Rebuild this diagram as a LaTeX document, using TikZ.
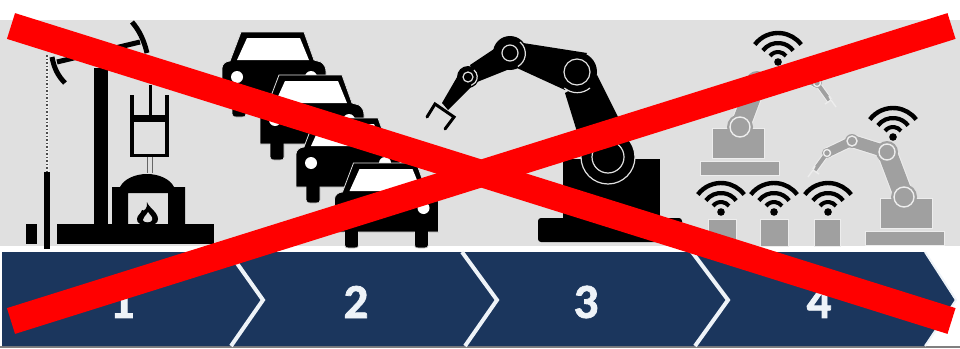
\documentclass[tikz,border=0pt]{standalone}
\usepackage{fontspec}
\setmainfont{Carlito}
\newfontfamily\stepfont[FakeBold=1.6]{Carlito Bold}
\usetikzlibrary{calc}
\definecolor{fieldgrey}{HTML}{E0E0E0}
\definecolor{bandnavy}{HTML}{1B365D}
\definecolor{numwhite}{HTML}{EEF3F8}
\definecolor{robotgrey}{HTML}{A0A0A0}
\definecolor{edgegrey}{HTML}{EDEDED}
\definecolor{crossred}{HTML}{FF0000}
\tikzset{
  stepnum/.style={text=numwhite,inner sep=0pt,font=\fontsize{49}{49}\selectfont\stepfont},
  chevron/.style={draw=numwhite,line width=4pt,line join=miter},
  crossbar/.style={draw=crossred,line width=27pt},
  inkfill/.style={fill=black,draw=none},
  whitering/.style={draw=fieldgrey,line width=1.2pt},
  greyblock/.style={fill=robotgrey,draw=edgegrey,line width=1pt},
  greyjoint/.style={draw=edgegrey,line width=1.4pt},
  wifiicon/.pic={
    \draw[black,line width=4.4pt] (217:29) arc[start angle=217,end angle=323,radius=29];
    \draw[black,line width=4.2pt] (217:19) arc[start angle=217,end angle=323,radius=19];
    \draw[black,line width=4pt] (217:10) arc[start angle=217,end angle=323,radius=10];
    \fill[black] (0,0) circle[radius=3.8];
  },
  carshape/.pic={
    \path[inkfill,draw=fieldgrey,line width=0.8pt] (-33,0) -- (30,0) -- (40,28) -- (47,30)
      .. controls (51,33) and (52,36) .. (52,40) -- (52,69) -- (42,69) -- (42,82)
      .. controls (42,85) and (40,85) .. (38,85) -- (32,85)
      .. controls (29,85) and (28,85) .. (28,82) -- (28,69) -- (-28,69) -- (-28,82)
      .. controls (-28,85) and (-29,85) .. (-32,85) -- (-38,85)
      .. controls (-40,85) and (-42,85) .. (-42,82) -- (-42,69) -- (-52,69) -- (-52,36)
      .. controls (-52,32) and (-48,29) .. (-44,29) -- cycle;
    \fill[white] (-27,6) -- (26,6) -- (35,28) -- (-37,28) -- cycle;
    \fill[white] (-37,45) circle[radius=6];
    \fill[white] (37,45) circle[radius=6];
  },
  greyrobot/.pic={
    \fill[greyblock] (-39,34) rectangle (40,48);
    \fill[greyblock] (-24,1) rectangle (28,31);
    \draw[draw=edgegrey,line width=1pt,double=robotgrey,double distance=19pt] (0,0) -- (-17,-45);
    \draw[draw=edgegrey,line width=1pt,double=robotgrey,double distance=12pt] (-17,-45) -- (-52,-56);
    \draw[draw=edgegrey,line width=1pt,double=robotgrey,double distance=9pt] (-52,-56) -- (-77,-44);
    \draw[draw=edgegrey,line width=1pt,double=robotgrey,double distance=4pt] (-77,-44) -- (-90,-26);
    \draw[draw=edgegrey,line width=1.4pt] (-96,-20) -- (-91,-27) -- (-85,-23) (-91,-27) -- (-89,-31);
    \fill[robotgrey] (0,0) circle[radius=13];
    \fill[robotgrey] (-17,-45) circle[radius=11];
    \fill[robotgrey] (-52,-56) circle[radius=7];
    \fill[robotgrey] (-77,-44) circle[radius=5];
    \draw[greyjoint] (0,0) circle[radius=10];
    \draw[greyjoint] (-17,-45) circle[radius=8];
    \draw[greyjoint] (-52,-56) circle[radius=5];
    \draw[greyjoint] (-77,-44) circle[radius=3.5];
  },
}
\begin{document}
\begin{tikzpicture}[x=1pt,y=-1pt]
  \useasboundingbox (0,0) rectangle (960,348);
  \fill[fieldgrey] (0,20) rectangle (960,246);
  \fill[gray] (0,346) rectangle (960,348);
  % band with the four steps
  \fill[bandnavy] (2,252) -- (925,252) -- (955,300) -- (925,346) -- (2,346) -- cycle;
  \draw[chevron] (229,252) -- (263,300) -- (231,346);
  \draw[chevron] (462,252) -- (497,300) -- (465,346);
  \draw[chevron] (692,252) -- (728,300) -- (695,346);
  \draw[draw=numwhite,line width=2pt] (925,252) -- (956,300) -- (925,346);
  \node[stepnum] (num1) at (122,302) {1};
  \node[stepnum] (num2) at (356,302) {2};
  \node[stepnum] (num3) at (586,302) {3};
  \node[stepnum] (num4) at (819,302) {4};
  % pump and furnace
  \fill (26,224) rectangle (37,244);
  \fill (57,224) rectangle (214,244);
  \fill (44,172) rectangle (50,249);
  \draw[edgegrey,line width=3pt] (47,55) -- (47,172);
  \draw[black!70,line width=1.5pt,dotted] (47,55) -- (47,172);
  \fill (94,68) rectangle (108,225);
  \draw[line width=5pt] (57,62) -- (140,42);
  \draw[line width=5pt] (52,57) .. controls (54,68) and (58,76) .. (65,83);
  \draw[line width=5pt] (132,22) .. controls (139,30) and (144,40) .. (147,53);
  \fill (130,95) rectangle (133.5,157);
  \fill (165,95) rectangle (168.5,157);
  \fill (130,153.5) rectangle (168.5,157);
  \fill (133,115) rectangle (165,122);
  \fill (148.5,85) rectangle (152,115);
  \draw[black!60,line width=1pt] (147.5,157) -- (147.5,173) (152.5,157) -- (152.5,173);
  \fill (112,187) -- (120,187) .. controls (124,179) and (135,174) .. (147,174)
    .. controls (159,174) and (170,179) .. (174,187) -- (185,187) -- (185,224)
    -- (168,224) -- (168,193) -- (128,193) -- (128,224) -- (112,224) -- cycle;
  \fill (147,202) .. controls (148,207) and (158,212) .. (158,219)
    .. controls (158,223) and (155,225) .. (147,225)
    .. controls (140,225) and (137,223) .. (137,219)
    .. controls (137,215) and (141,214) .. (142,210)
    .. controls (144,212) and (148,208) .. (147,202) -- cycle;
  \fill[fieldgrey] (148,212) .. controls (150,215) and (153,217) .. (152,220)
    .. controls (151,223) and (144,223) .. (143,220)
    .. controls (143,217) and (146,216) .. (148,212) -- cycle;
  % cars, back to front
  \pic at (274,32) {carshape};
  \pic at (312,75) {carshape};
  \pic at (348,118) {carshape};
  \pic at (386.5,163) {carshape};
  % big robot
  \fill[rounded corners=3pt] (538,218) rectangle (682,242);
  \fill (563,159) rectangle (660,218);
  \fill (565,93) -- (578,135) -- (635,157) -- (618,117) -- (597,75) -- cycle;
  \fill (523,43) -- (587,53) -- (565,90) -- (517,68) -- cycle;
  \fill (470,65) -- (500,45) -- (512,68) -- (477,82) -- cycle;
  \fill (460,72) -- (442,103) -- (448,110) -- (475,83) -- cycle;
  \draw[line width=3pt,line cap=round,line join=miter] (427,117) -- (435,104) -- (454,117) -- (445,129);
  \fill (608,157) circle[radius=27];
  \fill (577,72) circle[radius=20];
  \fill (510,53) circle[radius=17];
  \fill (468,77) circle[radius=11];
  \draw[whitering] (608,157) circle[radius=27];
  \draw[whitering] (608,157) circle[radius=16];
  \draw[whitering] (577,72) circle[radius=13];
  \draw[whitering] (590,88) arc[start angle=50,end angle=130,radius=20];
  \draw[whitering] (510,53) circle[radius=8];
  \draw[whitering] (520,42) arc[start angle=-50,end angle=60,radius=15];
  \draw[whitering] (468,77) circle[radius=5];
  \draw[whitering] (474,70) arc[start angle=-50,end angle=70,radius=9];
  % connected robots
  \pic[xscale=-1] at (740,127) {greyrobot};
  \pic at (904,197) {greyrobot};
  \fill[greyblock] (708,219) rectangle (736,246);
  \fill[greyblock] (760,219) rectangle (788,246);
  \fill[greyblock] (814,219) rectangle (840,246);
  \pic at (778,62) {wifiicon};
  \pic at (893,137) {wifiicon};
  \pic at (721,212) {wifiicon};
  \pic at (774,212) {wifiicon};
  \pic at (828,212) {wifiicon};
  % cross over everything
  \coordinate (crossTL) at (11,26);
  \coordinate (crossBR) at (951.5,321);
  \coordinate (crossTR) at (951.5,26);
  \coordinate (crossBL) at (11,321);
  \draw[crossbar] (crossTL) -- (crossBR);
  \draw[crossbar] (crossBL) -- (crossTR);
\end{tikzpicture}
\end{document}
